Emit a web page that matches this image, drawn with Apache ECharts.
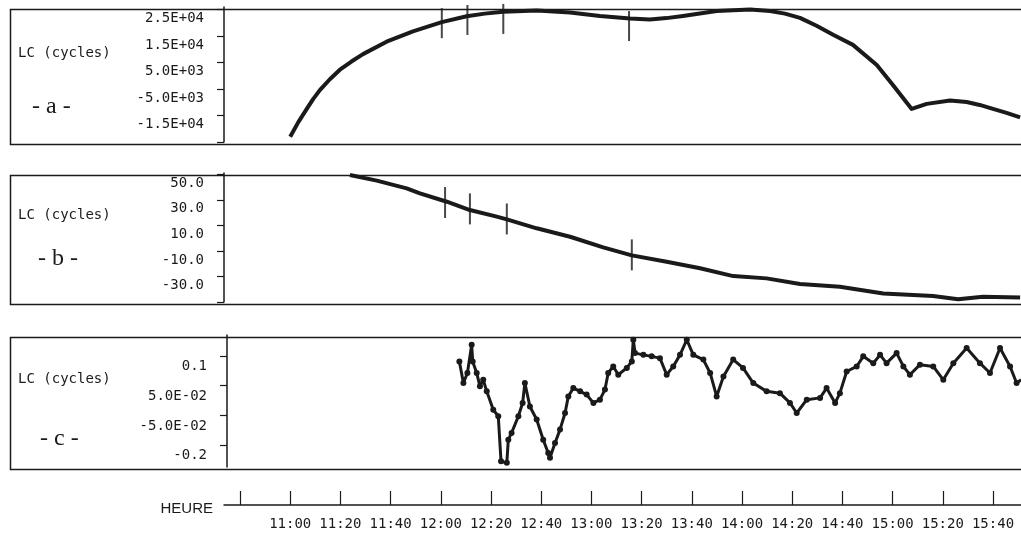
<!DOCTYPE html>
<html>
<head>
<meta charset="utf-8">
<script src="https://cdn.jsdelivr.net/npm/echarts@6/dist/echarts.min.js"></script>
<style>
html,body{margin:0;padding:0;background:#fff;}
#chart{width:1021px;height:538px;}
</style>
</head>
<body>
<div id="chart"></div>
<script>
// ---- DATA (time in minutes since midnight) ----
const timeA = [660, 663.3, 666.6, 669.2, 671.9, 675.8, 679.8, 684.4, 689, 698.4, 708.9, 720.4, 730.3, 737.5, 744.8, 758.2, 771.5, 783.4, 795.4, 803.3, 809.9, 816.5, 829.9, 843.2, 851.2, 857.1, 863.1, 869.7, 876.3, 884.2, 893.7, 900.2, 907.6, 913.6, 922.9, 929.5, 934.7, 940, 945.4, 950.8];
const valueA = [-23000, -17400, -12500, -8700, -5300, -1300, 2300, 5400, 8200, 12900, 16800, 20300, 22500, 23500, 24200, 24700, 23900, 22600, 21700, 21300, 21800, 22600, 24500, 25100, 24500, 23500, 21900, 18900, 15500, 11700, 4100, -3600, -12500, -10600, -9300, -9900, -11000, -12500, -14000, -15700];

const timeB = [683.8, 694.5, 706.4, 711.7, 722.4, 731.6, 742.3, 746.3, 758.2, 771.5, 784.7, 796.1, 810, 823.3, 836.5, 849.8, 863.1, 879, 896.3, 916.1, 926.1, 936, 950.8];
const valueB = [49.4, 45, 39, 35.1, 28.5, 22, 16.8, 14.7, 7.7, 1.1, -7.2, -13.5, -18.5, -23.6, -29.7, -31.5, -35.9, -38, -43.3, -45.3, -47.9, -45.9, -46.4];

const timeC = [727.4, 729.0, 730.6, 732.3, 732.7, 734.3, 735.6, 736.9, 738.3, 740.9, 742.9, 744.0, 746.3, 746.9, 748.2, 750.9, 752.6, 753.5, 755.5, 758.2, 760.8, 762.8, 763.5, 765.5, 767.5, 769.5, 770.8, 772.8, 775.5, 778.1, 780.8, 783.4, 785.4, 786.7, 788.7, 790.7, 794.1, 796.1, 796.7, 797.4, 800.7, 804.0, 807.3, 810.0, 812.6, 815.3, 818.0, 820.6, 824.6, 827.3, 829.9, 832.6, 836.5, 840.4, 844.5, 849.8, 855.1, 859.1, 861.8, 865.8, 871.1, 873.7, 877.1, 879.0, 881.7, 885.7, 888.3, 892.3, 895.0, 897.6, 901.6, 904.3, 906.9, 910.9, 916.2, 920.2, 924.2, 929.5, 934.8, 938.8, 942.8, 946.8, 949.4, 951.2];
const valueC = [0.131, 0.058, 0.092, 0.187, 0.131, 0.092, 0.047, 0.069, 0.030, -0.032, -0.054, -0.206, -0.211, -0.133, -0.110, -0.054, -0.009, 0.058, -0.021, -0.065, -0.133, -0.178, -0.194, -0.144, -0.099, -0.043, 0.013, 0.041, 0.030, 0.019, -0.009, 0.002, 0.036, 0.092, 0.114, 0.086, 0.109, 0.131, 0.204, 0.159, 0.153, 0.148, 0.142, 0.086, 0.114, 0.153, 0.204, 0.153, 0.137, 0.092, 0.013, 0.080, 0.137, 0.109, 0.058, 0.030, 0.024, -0.009, -0.043, 0.002, 0.008, 0.041, -0.009, 0.024, 0.097, 0.114, 0.148, 0.125, 0.153, 0.125, 0.159, 0.114, 0.086, 0.120, 0.114, 0.069, 0.125, 0.176, 0.125, 0.092, 0.176, 0.114, 0.058, 0.069];

// event marks crossing the curves
const eventTimeA = [720.4, 730.6, 744.9, 795.0];
const eventValueA = [19900, 21100, 21500, 18800];
const eventTimeB = [721.7, 731.6, 746.3, 796.1];
const eventValueB = [27.9, 22.9, 15.0, -13.1];

// axis ticks / labels
const timeTicks = [640, 660, 680, 700, 720, 740, 760, 780, 800, 820, 840, 860, 880, 900, 920, 940];
const timeLabelValues = [660, 680, 700, 720, 740, 760, 780, 800, 820, 840, 860, 880, 900, 920, 940];
const tickValuesA = [-25000, -15000, -5000, 5000, 15000, 25000];
const labelValuesA = [25000, 15000, 5000, -5000, -15000];
const labelTextsA = ['2.5E+04', '1.5E+04', '5.0E+03', '-5.0E+03', '-1.5E+04'];
const tickValuesB = [-50, -30, -10, 10, 30, 50];
const labelValuesB = [50, 30, 10, -10, -30];
const labelTextsB = ['50.0', '30.0', '10.0', '-10.0', '-30.0'];
const tickValuesC = [-0.15, -0.05, 0.05, 0.15];
const labelValuesC = [0.15, 0.05, -0.05, -0.15];
const labelTextsC = ['0.1', '5.0E-02', '-5.0E-02', '-0.2'];
const axisTitle = 'LC (cycles)';
const panelNames = ['- a -', '- b -', '- c -'];
const xTitle = 'HEURE';

// ---- LAYOUT ----
const W = 1021;
const pxPerMin = 2.51;   // horizontal scale
const refT = 640, refX = 240;
const mono = 'DejaVu Sans Mono';
const ink = '#1a1a1a';

const panels = [
  {top: 7, height: 135, left: 224, min: -25000, max: 26000, ticks: tickValuesA, lv: labelValuesA, lt: labelTextsA, pad: 2},
  {top: 173, height: 129, left: 224, min: -50, max: 51, ticks: tickValuesB, lv: labelValuesB, lt: labelTextsB, pad: 2},
  {top: 335, height: 132, left: 227, min: -0.225, max: 0.22, ticks: tickValuesC, lv: labelValuesC, lt: labelTextsC, pad: 4}
];

function xRange(left) {
  return {min: refT - (refX - left) / pxPerMin, max: refT + (W - refX) / pxPerMin};
}
function hhmm(v) {
  const h = Math.floor(v / 60), m = Math.round(v - h * 60);
  return h + ':' + (m < 10 ? '0' : '') + m;
}
function zip(a, b) { return a.map((t, i) => [t, b[i]]); }

const grid = panels.map(p => ({left: p.left, right: 0, top: p.top, height: p.height}));
grid.push({left: 224, right: 0, top: 504, height: 1});

const xAxis = panels.map((p, i) => Object.assign({type: 'value', gridIndex: i, show: false}, xRange(p.left)));
xAxis.push(Object.assign({
  type: 'value', gridIndex: 3, position: 'bottom',
  axisLine: {show: true, lineStyle: {color: ink, width: 1.5}},
  axisTick: {show: true, inside: true, length: 14, customValues: timeTicks, lineStyle: {color: ink, width: 1.2}},
  axisLabel: {show: true, customValues: timeLabelValues, formatter: hhmm, margin: 12,
    fontFamily: mono, fontSize: 14, color: ink},
  splitLine: {show: false}
}, xRange(224)));

const yAxis = panels.map((p, i) => ({
  type: 'value', gridIndex: i, min: p.min, max: p.max,
  axisLine: {show: true, lineStyle: {color: ink, width: 1.5}},
  axisTick: {show: true, length: 7, customValues: p.ticks, lineStyle: {color: ink, width: 1.2}},
  axisLabel: {show: true, customValues: p.lv, margin: 20, verticalAlign: 'top', padding: [p.pad, 0, 0, 0],
    fontFamily: mono, fontSize: 14, color: ink,
    formatter: v => { const k = p.lv.findIndex(x => Math.abs(x - v) < 1e-9); return k >= 0 ? p.lt[k] : ''; }},
  splitLine: {show: false}
}));
yAxis.push({type: 'value', gridIndex: 3, show: false, min: 0, max: 1});

const graphic = [];
panels.forEach((p, i) => {
  graphic.push({type: 'rect', left: 8, top: p.top, shape: {x: 0, y: 0, width: 1030, height: p.height},
    style: {fill: 'none', stroke: ink, lineWidth: 1.5}, silent: true, z: 100});
  graphic.push({type: 'text', left: 18, top: p.top + [39, 35, 37][i],
    style: {text: axisTitle, font: '14px "' + mono + '"', fill: ink}});
  graphic.push({type: 'text', left: [32, 38, 40][i], top: p.top + [88, 74, 92][i],
    style: {text: panelNames[i], font: '24px "Liberation Serif"', fill: ink}});
});
graphic.push({type: 'text', right: 1021 - 213, top: 501,
  style: {text: xTitle, font: '15px "Liberation Sans"', fill: ink}});

const lineBase = {type: 'line', showSymbol: false, symbol: 'none', animation: false};
const series = [
  Object.assign({}, lineBase, {xAxisIndex: 0, yAxisIndex: 0, data: zip(timeA, valueA),
    lineStyle: {color: ink, width: 4, join: 'round'}}),
  {type: 'scatter', xAxisIndex: 0, yAxisIndex: 0, data: zip(eventTimeA, eventValueA),
    symbol: 'rect', symbolSize: [2, 30], itemStyle: {color: ink}, animation: false},
  Object.assign({}, lineBase, {xAxisIndex: 1, yAxisIndex: 1, data: zip(timeB, valueB),
    lineStyle: {color: ink, width: 4, join: 'round'}}),
  {type: 'scatter', xAxisIndex: 1, yAxisIndex: 1, data: zip(eventTimeB, eventValueB),
    symbol: 'rect', symbolSize: [2, 31], itemStyle: {color: ink}, animation: false},
  {type: 'line', xAxisIndex: 2, yAxisIndex: 2, data: zip(timeC, valueC), animation: false,
    showSymbol: true, symbol: 'circle', symbolSize: 6, itemStyle: {color: ink},
    lineStyle: {color: ink, width: 3}}
];

const chart = echarts.init(document.getElementById('chart'), null, {renderer: 'canvas'});
chart.setOption({backgroundColor: '#fff', animation: false, grid, xAxis, yAxis, series, graphic});
</script>
</body>
</html>
